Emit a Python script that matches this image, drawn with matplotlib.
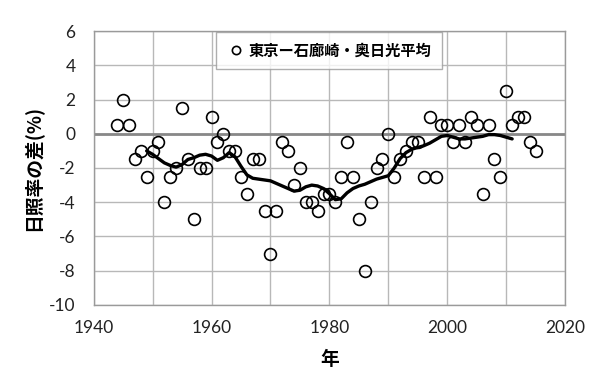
import matplotlib
matplotlib.use("Agg")
import matplotlib.pyplot as plt

plt.rcParams['font.family'] = ['Noto Sans CJK JP', 'DejaVu Sans']
plt.rcParams['axes.unicode_minus'] = False

years = list(range(1944, 2016))
diff = [0.5, 2, 0.5, -1.5, -1, -2.5, -1, -0.5, -4, -2.5,
        -2, 1.5, -1.5, -5, -2, -2, 1, -0.5, 0, -1,
        -1, -2.5, -3.5, -1.5, -1.5, -4.5, -7, -4.5, -0.5, -1,
        -3, -2, -4, -4, -4.5, -3.5, -3.5, -4, -2.5, -0.5,
        -2.5, -5, -8, -4, -2, -1.5, 0, -2.5, -1.5, -1,
        -0.5, -0.5, -2.5, 1, -2.5, 0.5, 0.5, -0.5, 0.5, -0.5,
        1, 0.5, -3.5, 0.5, -1.5, -2.5, 2.5, 0.5, 1, 1,
        -0.5, -1]

avg_years = list(range(1949, 2012))
avg = [-1.0, -1.2, -1.45, -1.7, -1.85, -1.95, -1.8, -1.5, -1.4, -1.25,
       -1.2, -1.3, -1.55, -1.4, -1.1, -1.35, -1.9, -2.4, -2.6, -2.65,
       -2.7, -2.75, -2.9, -3.05, -3.2, -3.35, -3.3, -3.1, -3.0, -3.05,
       -3.2, -3.5, -3.85, -3.8, -3.45, -3.2, -3.05, -2.95, -2.8, -2.65,
       -2.55, -2.45, -2.0, -1.45, -1.1, -0.9, -0.8, -0.7, -0.55, -0.35,
       -0.15, -0.1, -0.2, -0.3, -0.3, -0.25, -0.2, -0.15, -0.05, -0.05,
       -0.1, -0.2, -0.3]

legend_label = "東京ー石廊崎・奥日光平均"
xlabel = "年"
ylabel = "日照率の差(%)"

fig = plt.figure(figsize=(6, 3.84), dpi=100)
ax = fig.add_axes([0.156, 0.206, 0.786, 0.713])

ax.set_xlim(1940, 2020)
ax.set_ylim(-10, 6)
ax.set_xticks(range(1940, 2021, 20))
ax.set_xticks(range(1950, 2021, 20), minor=True)
ax.set_yticks(range(-10, 7, 2))

ax.grid(True, which='both', color='#b8b8b8', linewidth=1.0)
ax.axhline(0, color='#888888', linewidth=2.0, zorder=1.5)
ax.set_axisbelow(True)

for s in ax.spines.values():
    s.set_color('#9a9a9a')
    s.set_linewidth(1.0)

ax.tick_params(which='both', length=0, colors='#222222')
ax.tick_params(axis='y', pad=13)
ax.tick_params(axis='x', pad=11)
for lab in ax.get_xticklabels() + ax.get_yticklabels():
    lab.set_fontfamily(['Lato', 'DejaVu Sans'])
    lab.set_fontsize(12.5)

ax.plot(years, diff, linestyle='none', marker='o', markersize=8.5,
        markerfacecolor='none', markeredgecolor='black', markeredgewidth=1.2,
        label=legend_label, zorder=3)
ax.plot(avg_years, avg, color='black', linewidth=2.4, zorder=4,
        solid_capstyle='round')

handles, labels = ax.get_legend_handles_labels()
leg = ax.legend(handles[:1], labels[:1], loc='upper left',
                bbox_to_anchor=(0.258, 1.0), borderaxespad=0.05,
                frameon=True, fancybox=False,
                fontsize=11, handlelength=1.2, handletextpad=0.2,
                borderpad=0.7, markerscale=0.7)
leg.get_frame().set_edgecolor('#9a9a9a')
leg.get_frame().set_linewidth(1.0)
for t in leg.get_texts():
    t.set_fontweight('bold')

ax.set_xlabel(xlabel, fontsize=13.5, fontweight='bold', labelpad=10)
ax.set_ylabel(ylabel, fontsize=13.5, fontweight='bold', labelpad=4)

fig.savefig('out.png', dpi=100, facecolor='white')
